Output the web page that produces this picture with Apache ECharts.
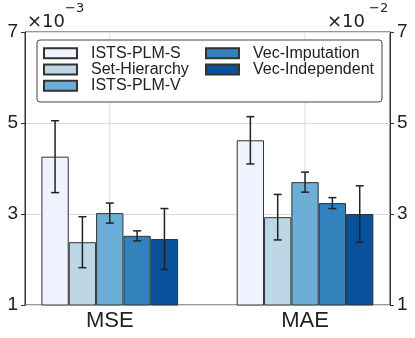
<!DOCTYPE html>
<html><head><meta charset="utf-8">
<script src="https://cdn.jsdelivr.net/npm/echarts@6/dist/echarts.min.js"></script>
<style>html,body{margin:0;padding:0;background:#fff}#c{width:415px;height:338px}</style>
</head><body><div id="c"></div>
<script>
const categories = ['MSE', 'MAE'];
const models = ['ISTS-PLM-S', 'Set-Hierarchy', 'ISTS-PLM-V', 'Vec-Imputation', 'Vec-Independent'];
const mseMean = [4.26e-3, 2.38e-3, 3.02e-3, 2.52e-3, 2.45e-3];
const mseErr  = [0.79e-3, 0.56e-3, 0.22e-3, 0.11e-3, 0.67e-3];
const maeMean = [4.62e-2, 2.93e-2, 3.70e-2, 3.24e-2, 3.00e-2];
const maeErr  = [0.52e-2, 0.50e-2, 0.22e-2, 0.12e-2, 0.62e-2];
const scales = [1e-3, 1e-2];
const yTicks = [1, 3, 5, 7];
const colors = ['#eff3ff', '#bdd7e7', '#6baed6', '#3182bd', '#08519c'];

const FONT = 'Liberation Sans, Arial, sans-serif';
const MFONT = 'DejaVu Sans, sans-serif';
const barW = 0.14;
const means = [mseMean, maeMean];
const errs = [mseErr, maeErr];

const series = models.map((m, i) => ({
  name: m,
  type: 'bar',
  barWidth: 27.3,
  barGap: '-100%',
  z: 3,
  itemStyle: { color: colors[i], borderColor: '#333', borderWidth: 1 },
  data: categories.map((c, k) => [k + (i - 2) * barW, means[k][i] / scales[k]])
}));

const errData = [];
categories.forEach((c, k) => models.forEach((m, i) => {
  errData.push([k + (i - 2) * barW, means[k][i] / scales[k], errs[k][i] / scales[k]]);
}));

series.push({
  type: 'custom', name: 'err', z: 5, silent: true,
  data: errData,
  renderItem: (params, api) => {
    const x = api.value(0), y = api.value(1), e = api.value(2);
    const hi = api.coord([x, y + e]), lo = api.coord([x, y - e]);
    const st = { stroke: '#222', lineWidth: 1.5 };
    return { type: 'group', children: [
      { type: 'line', shape: { x1: hi[0], y1: hi[1], x2: lo[0], y2: lo[1] }, style: st },
      { type: 'line', shape: { x1: hi[0] - 4, y1: hi[1], x2: hi[0] + 4, y2: hi[1] }, style: st },
      { type: 'line', shape: { x1: lo[0] - 4, y1: lo[1], x2: lo[0] + 4, y2: lo[1] }, style: st }
    ]};
  }
});

series.push({
  type: 'custom', name: 'vgrid', z: 1, silent: true,
  data: categories.map((c, k) => [k]),
  renderItem: (params, api) => {
    const a = api.coord([api.value(0), yTicks[0]]);
    const b = api.coord([api.value(0), yTicks[yTicks.length - 1]]);
    return { type: 'line', shape: { x1: a[0], y1: a[1], x2: b[0], y2: b[1] }, style: { stroke: '#dcdcdc', lineWidth: 1 } };
  }
});

const yAxisBase = {
  type: 'value', min: yTicks[0], max: yTicks[yTicks.length - 1], interval: 2,
  axisLine: { show: true, onZero: false, lineStyle: { color: '#333', width: 1 } },
  axisTick: { show: true, length: 4, lineStyle: { color: '#333' } },
  axisLabel: { color: '#222', fontSize: 19, fontFamily: FONT, margin: 7 }
};

const legendBase = {
  orient: 'vertical', icon: 'rect', itemWidth: 33, itemHeight: 10, itemGap: 0,
  padding: 0, z: 12,
  textStyle: { fontSize: 16, fontFamily: FONT, color: '#222', lineHeight: 16.3, padding: [0, 0, 0, 9] },
  selectedMode: false
};

const option = {
  animation: false,
  grid: { left: 25, right: 25, top: 32, bottom: 33, show: true, borderColor: '#333', borderWidth: 1, containLabel: false },
  xAxis: {
    type: 'value', min: -0.434, max: 1.435,
    axisLine: { show: false, onZero: false }, axisTick: { show: false }, splitLine: { show: false },
    axisLabel: { customValues: [0, 1], formatter: v => categories[Math.round(v)], color: '#222', fontSize: 22, fontFamily: FONT, margin: 5 }
  },
  yAxis: [
    Object.assign({}, yAxisBase, { position: 'left', splitLine: { show: true, lineStyle: { color: '#dcdcdc', width: 1 } } }),
    Object.assign({}, yAxisBase, { position: 'right', splitLine: { show: false } })
  ],
  legend: [
    Object.assign({}, legendBase, { data: models.slice(0, 3), left: 43, top: 45 }),
    Object.assign({}, legendBase, { data: models.slice(3), left: 205, top: 45 })
  ],
  graphic: [
    { type: 'rect', z: 10, shape: { x: 37, y: 40, width: 345, height: 62, r: 3 }, style: { fill: '#fff', stroke: '#444', lineWidth: 1 } },
    { type: 'text', z: 10, x: 27, y: 22, style: { text: '×10', font: '18px ' + MFONT, fill: '#222', verticalAlign: 'middle' } },
    { type: 'text', z: 10, x: 65, y: 9, style: { text: '−3', font: '13px ' + MFONT, fill: '#222', verticalAlign: 'middle' } },
    { type: 'text', z: 10, x: 327, y: 22, style: { text: '×10', font: '18px ' + MFONT, fill: '#222', verticalAlign: 'middle' } },
    { type: 'text', z: 10, x: 369, y: 9, style: { text: '−2', font: '13px ' + MFONT, fill: '#222', verticalAlign: 'middle' } }
  ],
  series: series
};

const chart = echarts.init(document.getElementById('c'), null, { renderer: 'canvas' });
chart.setOption(option);
</script></body></html>
